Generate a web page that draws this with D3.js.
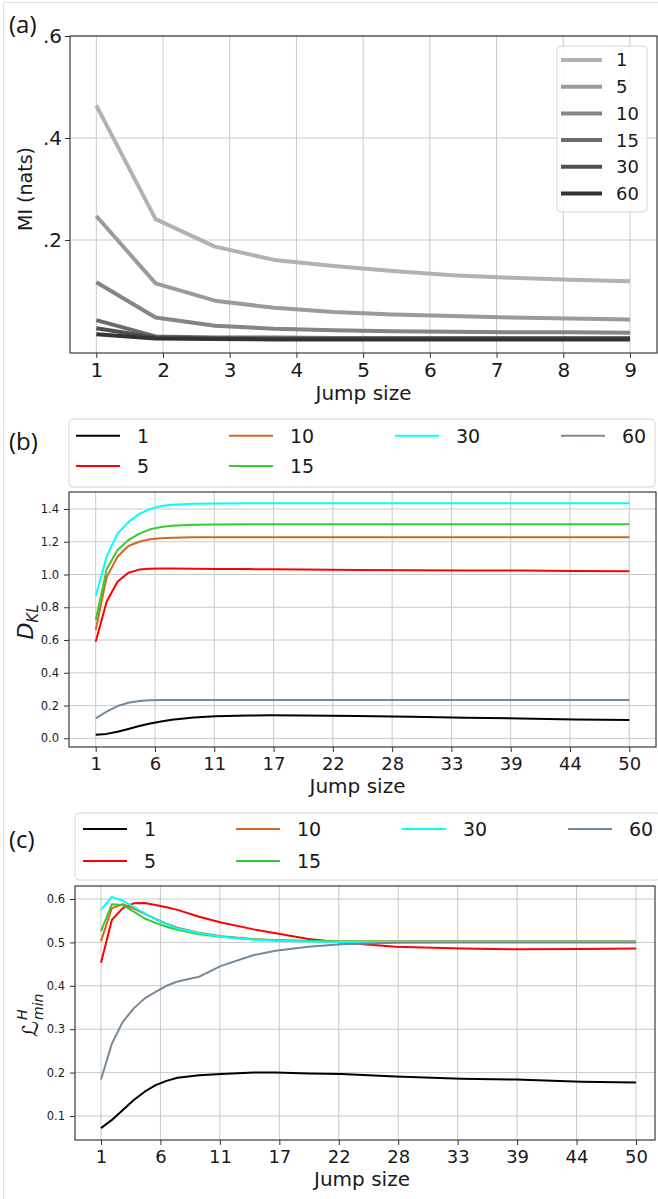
<!DOCTYPE html>
<html>
<head>
<meta charset="utf-8">
<script src="https://cdn.jsdelivr.net/npm/d3@7"></script>
<style>
  body { margin: 0; background: #fff; }
  svg { display: block; }
  .tick text { font-family: 'DejaVu Sans', sans-serif; fill: #1a1a1a; }
  .tick line { stroke: #333; }
</style>
</head>
<body>
<svg id="fig" width="658" height="1199"></svg>
<script>
// ---- (a) MI vs jump size, one grey line per window ----
const jumpA = [1, 1.889, 2.778, 3.667, 4.556, 5.444, 6.333, 7.222, 8.111, 9];
const namesA = ['1', '5', '10', '15', '30', '60'];
const miW1  = [0.464, 0.241, 0.187, 0.161, 0.149, 0.139, 0.131, 0.126, 0.122, 0.119];
const miW5  = [0.247, 0.115, 0.081, 0.067, 0.059, 0.054, 0.051, 0.048, 0.046, 0.044];
const miW10 = [0.117, 0.048, 0.032, 0.026, 0.023, 0.021, 0.020, 0.019, 0.019, 0.018];
const miW15 = [0.043, 0.011, 0.009, 0.009, 0.008, 0.008, 0.008, 0.008, 0.008, 0.008];
const miW30 = [0.027, 0.009, 0.007, 0.006, 0.006, 0.006, 0.006, 0.006, 0.006, 0.006];
const miW60 = [0.015, 0.007, 0.006, 0.005, 0.005, 0.005, 0.005, 0.005, 0.005, 0.005];
const xTicksA = [1, 2, 3, 4, 5, 6, 7, 8, 9];
const yTicksA = [0.2, 0.4, 0.6];
const yTickLabelsA = ['.2', '.4', '.6'];

// ---- (b) KL divergence ----
const namesBC = ['1', '5', '10', '15', '30', '60'];
const jumpB = [1, 2, 3, 4, 5, 6, 7, 8, 10, 12, 15, 17, 20, 25, 30, 35, 40, 45, 50];
const klW1  = [0.022, 0.027, 0.040, 0.057, 0.075, 0.090, 0.103, 0.113, 0.127, 0.134, 0.139, 0.140, 0.139, 0.136, 0.131, 0.126, 0.121, 0.115, 0.111];
const klW5  = [0.590, 0.834, 0.956, 1.011, 1.030, 1.035, 1.036, 1.036, 1.035, 1.034, 1.033, 1.032, 1.030, 1.028, 1.026, 1.025, 1.024, 1.022, 1.020];
const klW10 = [0.661, 0.983, 1.109, 1.174, 1.200, 1.215, 1.221, 1.225, 1.227, 1.228, 1.228, 1.228, 1.228, 1.228, 1.228, 1.228, 1.228, 1.228, 1.228];
const klW15 = [0.722, 1.030, 1.150, 1.210, 1.250, 1.276, 1.290, 1.298, 1.304, 1.306, 1.307, 1.307, 1.307, 1.307, 1.307, 1.307, 1.307, 1.307, 1.307];
const klW30 = [0.869, 1.109, 1.250, 1.320, 1.370, 1.400, 1.418, 1.426, 1.432, 1.434, 1.435, 1.435, 1.435, 1.435, 1.435, 1.435, 1.435, 1.435, 1.435];
const klW60 = [0.122, 0.163, 0.197, 0.217, 0.228, 0.232, 0.234, 0.234, 0.234, 0.234, 0.234, 0.234, 0.234, 0.234, 0.234, 0.234, 0.234, 0.234, 0.234];
const yTicksB = [0, 0.2, 0.4, 0.6, 0.8, 1.0, 1.2, 1.4];

// ---- (c) minimum entropy loss ----
const jumpC = [1, 2, 3, 4, 5, 6, 7, 8, 10, 12, 15, 17, 20, 23, 28, 34, 39, 45, 50];
const lmW1  = [0.072, 0.091, 0.114, 0.137, 0.156, 0.171, 0.181, 0.188, 0.194, 0.197, 0.200, 0.200, 0.198, 0.197, 0.191, 0.186, 0.184, 0.179, 0.177];
const lmW5  = [0.453, 0.552, 0.579, 0.590, 0.591, 0.586, 0.581, 0.575, 0.559, 0.546, 0.530, 0.521, 0.508, 0.500, 0.490, 0.486, 0.484, 0.485, 0.486];
const lmW10 = [0.503, 0.579, 0.588, 0.578, 0.566, 0.554, 0.543, 0.534, 0.522, 0.514, 0.507, 0.505, 0.503, 0.502, 0.502, 0.502, 0.502, 0.502, 0.502];
const lmW15 = [0.526, 0.588, 0.586, 0.571, 0.555, 0.545, 0.536, 0.529, 0.519, 0.513, 0.507, 0.505, 0.503, 0.502, 0.502, 0.502, 0.502, 0.502, 0.502];
const lmW30 = [0.575, 0.605, 0.596, 0.582, 0.567, 0.553, 0.542, 0.532, 0.521, 0.513, 0.506, 0.504, 0.502, 0.501, 0.501, 0.501, 0.501, 0.501, 0.501];
const lmW60 = [0.184, 0.267, 0.317, 0.348, 0.371, 0.386, 0.400, 0.410, 0.421, 0.446, 0.471, 0.481, 0.490, 0.496, 0.499, 0.500, 0.500, 0.500, 0.500];
const yTicksC = [0.1, 0.2, 0.3, 0.4, 0.5, 0.6];

// shared x ticks for (b) and (c): 10 evenly spaced jump sizes, labels truncated
const xTickLabelsBC = ['1', '6', '11', '17', '22', '28', '33', '39', '44', '50'];
const xTicksBC = xTickLabelsBC.map((_, i) => 1 + i * 49 / 9);

const greys = ['#b2b2b2', '#9b9b9b', '#858585', '#6b6b6b', '#505050', '#343434'];
const colorsBC = ['#000000', '#ff0000', '#d2691e', '#32cd32', '#00ffff', '#778899'];

const svg = d3.select('#fig');

// faint outer border
svg.append('rect')
  .attr('x', 3.5).attr('y', 2.5).attr('width', 670).attr('height', 1210)
  .attr('fill', 'none').attr('stroke', '#e0e0e0');

function drawPanel(opt) {
  const { box, x, y } = opt;
  const g = svg.append('g');

  // grid
  g.append('g').selectAll('line.gx').data(opt.xTicks).enter().append('line')
    .attr('x1', d => x(d)).attr('x2', d => x(d))
    .attr('y1', box.top).attr('y2', box.bottom)
    .attr('stroke', '#c9c9c9').attr('stroke-width', 1);
  g.append('g').selectAll('line.gy').data(opt.yTicks).enter().append('line')
    .attr('x1', box.left).attr('x2', box.right)
    .attr('y1', d => y(d)).attr('y2', d => y(d))
    .attr('stroke', '#c9c9c9').attr('stroke-width', 1);

  // series
  const line = d3.line().x(d => x(d[0])).y(d => y(d[1]));
  opt.series.forEach((vals, i) => {
    g.append('path')
      .datum(d3.zip(opt.jump, vals))
      .attr('d', line)
      .attr('fill', 'none')
      .attr('stroke', opt.colors[i])
      .attr('stroke-width', opt.lineWidth)
      .attr('stroke-linejoin', 'round');
  });

  // frame
  g.append('rect')
    .attr('x', box.left).attr('y', box.top)
    .attr('width', box.right - box.left).attr('height', box.bottom - box.top)
    .attr('fill', 'none').attr('stroke', '#3a3a3a').attr('stroke-width', 1.2);

  // axes
  const xAxis = d3.axisBottom(x).tickValues(opt.xTicks)
    .tickFormat((d, i) => opt.xLabels[i]).tickSizeOuter(0).tickSize(5).tickPadding(opt.xPad);
  const gx = g.append('g').attr('transform', `translate(0,${box.bottom})`).call(xAxis);
  gx.select('.domain').remove();
  gx.selectAll('text').style('font-size', opt.xFont + 'px');

  const yAxis = d3.axisLeft(y).tickValues(opt.yTicks)
    .tickFormat((d, i) => opt.yLabels[i]).tickSizeOuter(0).tickSize(5).tickPadding(opt.yPad);
  const gy = g.append('g').attr('transform', `translate(${box.left},0)`).call(yAxis);
  gy.select('.domain').remove();
  gy.selectAll('text').style('font-size', opt.yFont + 'px');

  // x label
  g.append('text')
    .attr('x', (box.left + box.right) / 2 + opt.xLabelShift).attr('y', opt.xLabelY)
    .attr('text-anchor', 'middle')
    .style('font-family', "'DejaVu Sans', sans-serif").style('font-size', '20px').attr('fill', '#1a1a1a')
    .text('Jump size');

  // panel letter
  g.append('text')
    .attr('x', 9).attr('y', opt.letterY)
    .style('font-family', "'Open Sans', sans-serif").style('font-size', '24px').attr('fill', '#111')
    .text(opt.letter);

  return g;
}

// ---------- panel (a) ----------
const boxA = { left: 70, right: 657, top: 36, bottom: 353 };
const xA = d3.scaleLinear().domain([1, 9]).range([96.3, 630]);
const yA = d3.scaleLinear().domain([0, 0.6]).range([342, 36]);
const gA = drawPanel({
  box: boxA, x: xA, y: yA, jump: jumpA,
  series: [miW1, miW5, miW10, miW15, miW30, miW60], colors: greys, lineWidth: 4,
  xTicks: xTicksA, xLabels: xTicksA.map(String), xPad: 5, xFont: 20,
  yTicks: yTicksA, yLabels: yTickLabelsA, yPad: 3, yFont: 20,
  xLabelY: 400, xLabelShift: 0, letter: '(a)', letterY: 33
});

gA.append('text')
  .attr('transform', 'translate(25,189) rotate(-90)')
  .attr('text-anchor', 'middle').attr('dy', '0.35em')
  .style('font-family', "'DejaVu Sans', sans-serif").style('font-size', '19px').attr('fill', '#1a1a1a')
  .text('MI (nats)');

// vertical legend for (a)
const legA = gA.append('g');
legA.append('rect')
  .attr('x', 557).attr('y', 46).attr('width', 90).attr('height', 166).attr('rx', 4)
  .attr('fill', '#fff').attr('fill-opacity', 0.8).attr('stroke', '#d6d6d6');
namesA.forEach((n, i) => {
  const yy = 60 + i * 26.7;
  legA.append('line').attr('x1', 561).attr('x2', 602).attr('y1', yy).attr('y2', yy)
    .attr('stroke', greys[i]).attr('stroke-width', 4);
  legA.append('text').attr('x', 616).attr('y', yy).attr('dy', '0.36em')
    .style('font-family', "'DejaVu Sans', sans-serif").style('font-size', '18px').attr('fill', '#1a1a1a')
    .text(n);
});

// horizontal 4-column legend used by (b) and (c); six entries fill columns 2,2,1,1
const legCol = [0, 0, 1, 1, 2, 3];
const legRow = [0, 1, 0, 1, 0, 0];
function wideLegend(box, rowY, colX) {
  const lg = svg.append('g');
  lg.append('rect')
    .attr('x', box.left).attr('y', box.top).attr('width', box.right - box.left).attr('height', box.bottom - box.top)
    .attr('rx', 4).attr('fill', '#fff').attr('stroke', '#d6d6d6');
  namesBC.forEach((n, i) => {
    const lx = colX[legCol[i]], ly = rowY[legRow[i]];
    lg.append('line').attr('x1', lx).attr('x2', lx + 44).attr('y1', ly).attr('y2', ly)
      .attr('stroke', colorsBC[i]).attr('stroke-width', 2);
    lg.append('text').attr('x', lx + 61).attr('y', ly).attr('dy', '0.36em')
      .style('font-family', "'DejaVu Sans', sans-serif").style('font-size', '19px').attr('fill', '#1a1a1a')
      .text(n);
  });
}

// ---------- panel (b) ----------
const boxB = { left: 69, right: 656, top: 492, bottom: 747 };
const xB = d3.scaleLinear().domain([1, 50]).range([95.7, 629.3]);
const yB = d3.scaleLinear().domain([0, 1.4]).range([738.3, 509]);
const gB = drawPanel({
  box: boxB, x: xB, y: yB, jump: jumpB,
  series: [klW1, klW5, klW10, klW15, klW30, klW60], colors: colorsBC, lineWidth: 2,
  xTicks: xTicksBC, xLabels: xTickLabelsBC, xPad: 5, xFont: 18,
  yTicks: yTicksB, yLabels: yTicksB.map(d => d.toFixed(1)), yPad: 5, yFont: 11.5,
  xLabelY: 793, xLabelShift: -5, letter: '(b)', letterY: 450
});
wideLegend({ left: 69, right: 655, top: 419, bottom: 487 }, [435.7, 466], [76, 229, 395, 561]);

const dkl = gB.append('text')
  .attr('transform', 'translate(25,622) rotate(-90)')
  .attr('text-anchor', 'middle').attr('y', 8)
  .style('font-family', "'DejaVu Sans', sans-serif").attr('fill', '#1a1a1a').style('font-style', 'italic');
dkl.append('tspan').style('font-size', '22px').text('D');
dkl.append('tspan').style('font-size', '15px').attr('dy', 5).text('KL');

// ---------- panel (c) ----------
const boxC = { left: 75, right: 655, top: 886, bottom: 1140 };
const xC = d3.scaleLinear().domain([1, 50]).range([101, 636]);
const yC = d3.scaleLinear().domain([0.1, 0.6]).range([1116, 899]);
const gC = drawPanel({
  box: boxC, x: xC, y: yC, jump: jumpC,
  series: [lmW1, lmW5, lmW10, lmW15, lmW30, lmW60], colors: colorsBC, lineWidth: 2,
  xTicks: xTicksBC, xLabels: xTickLabelsBC, xPad: 5, xFont: 18,
  yTicks: yTicksC, yLabels: yTicksC.map(d => d.toFixed(1)), yPad: 5, yFont: 11.5,
  xLabelY: 1186, xLabelShift: -3, letter: '(c)', letterY: 848
});
wideLegend({ left: 75, right: 661, top: 813, bottom: 880 }, [829, 861], [83, 236, 402, 568]);

// script L with stacked H / min
const lab = gC.append('g').attr('transform', 'translate(30,1015) rotate(-90)')
  .style('font-family', "'DejaVu Sans', sans-serif").attr('fill', '#1a1a1a');
lab.append('text').attr('x', -22).attr('y', 8).style('font-size', '22px').style('font-style', 'italic').text('ℒ');
lab.append('text').attr('x', -5).attr('y', -3).style('font-size', '14px').style('font-style', 'italic').text('H');
lab.append('text').attr('x', -5).attr('y', 13).style('font-size', '14px').style('font-style', 'italic').text('min');
</script>
</body>
</html>
